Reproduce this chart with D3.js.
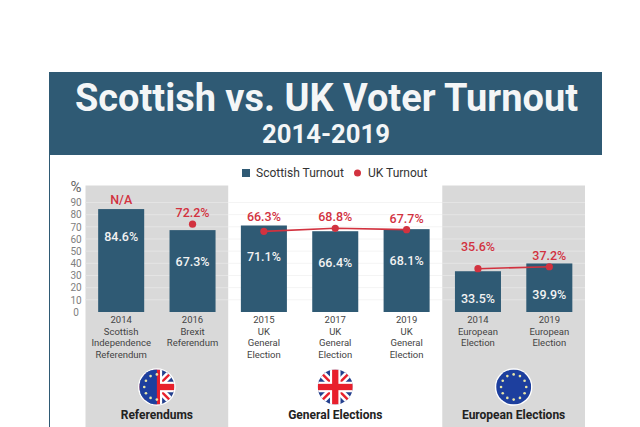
<!DOCTYPE html>
<html>
<head>
<meta charset="utf-8">
<script src="https://cdn.jsdelivr.net/npm/d3@7"></script>
<style>
  body { margin: 0; background: #fff; }
  svg { display: block; }
  text { font-family: "Roboto", "Noto Sans", sans-serif; }
</style>
</head>
<body>
<svg id="chart" width="640" height="427"></svg>
<script>
const years = ["2014", "2016", "2015", "2017", "2019", "2014", "2019"];
const names = [
  ["Scottish", "Independence", "Referendum"],
  ["Brexit", "Referendum"],
  ["UK", "General", "Election"],
  ["UK", "General", "Election"],
  ["UK", "General", "Election"],
  ["European", "Election"],
  ["European", "Election"]
];
const scottish = [84.6, 67.3, 71.1, 66.4, 68.1, 33.5, 39.9];
const uk = [null, 72.2, 66.3, 68.8, 67.7, 35.6, 37.2];
const yTicks = [0, 10, 20, 30, 40, 50, 60, 70, 80, 90];
const groups = ["Referendums", "General Elections", "European Elections"];
const groupBars = [[0, 1], [2, 3, 4], [5, 6]];

const navy = "#2f5a74", red = "#d2323f", grey = "#d9d9d9";
const svg = d3.select("#chart");

const x = d3.scaleBand().domain(d3.range(7)).range([85.5, 585]).paddingInner(0.355).paddingOuter(0.1775);
const y = d3.scaleLinear().domain([0, 90]).range([312, 202.5]);

// header
svg.append("rect").attr("x", 49).attr("y", 72).attr("width", 553).attr("height", 83).attr("fill", navy);
svg.append("line").attr("x1", 49.5).attr("x2", 49.5).attr("y1", 155).attr("y2", 427).attr("stroke", navy);
svg.append("text").attr("x", 326.5).attr("y", 111).attr("text-anchor", "middle")
  .attr("font-size", 38).attr("font-weight", 700).attr("fill", "#f4f6f7")
  .attr("textLength", 503).attr("lengthAdjust", "spacingAndGlyphs")
  .text("Scottish vs. UK Voter Turnout");
svg.append("text").attr("x", 326).attr("y", 143).attr("text-anchor", "middle")
  .attr("font-size", 25).attr("font-weight", 700).attr("fill", "#f4f6f7")
  .attr("textLength", 128).attr("lengthAdjust", "spacingAndGlyphs")
  .text("2014-2019");

// legend
svg.append("rect").attr("x", 242).attr("y", 169).attr("width", 8).attr("height", 8).attr("fill", navy);
svg.append("text").attr("x", 256).attr("y", 177).attr("font-size", 12).attr("fill", "#333").text("Scottish Turnout");
svg.append("circle").attr("cx", 357.5).attr("cy", 173).attr("r", 3.5).attr("fill", red);
svg.append("text").attr("x", 368).attr("y", 177).attr("font-size", 12).attr("fill", "#333").text("UK Turnout");

// grey panels behind referendums and european groups
const step = x.step();
const panelX0 = i => x(i) - (step - x.bandwidth()) / 2;
[[0, 1], [5, 6]].forEach(p => {
  svg.append("rect").attr("x", panelX0(p[0])).attr("y", 185.5)
    .attr("width", step * 2).attr("height", 242).attr("fill", grey);
});

// gridlines
yTicks.forEach(t => {
  if (t === 0) return;
  groupBars.forEach((g, gi) => {
    svg.append("line")
      .attr("x1", panelX0(g[0])).attr("x2", panelX0(g[0]) + step * g.length)
      .attr("y1", y(t)).attr("y2", y(t))
      .attr("stroke", gi === 1 ? "#f4f4f4" : "#e4e4e4");
  });
});

// y axis
const axis = svg.append("g").attr("transform", "translate(83,0)")
  .call(d3.axisLeft(y).tickValues(yTicks).tickSize(0).tickPadding(0));
axis.select(".domain").remove();
axis.selectAll("text").attr("font-size", 10).attr("fill", "#808080")
  .style("font-family", "Roboto, sans-serif").attr("text-anchor", "middle").attr("dx", -7);
svg.append("text").attr("x", 76).attr("y", 192).attr("text-anchor", "middle")
  .attr("font-size", 15).attr("fill", "#666").text("%");

// bars
svg.selectAll(".bar").data(scottish).join("rect").attr("class", "bar")
  .attr("x", (d, i) => x(i)).attr("width", x.bandwidth())
  .attr("y", d => y(d)).attr("height", d => y(0) - y(d)).attr("fill", navy);

// scottish labels, the tall and the short bar sit a bit higher
svg.selectAll(".val").data(scottish).join("text").attr("class", "val")
  .attr("x", (d, i) => x(i) + x.bandwidth() / 2)
  .attr("y", (d, i) => y(d) + (i === 0 || i === 5 ? 32 : 36))
  .attr("text-anchor", "middle").attr("font-size", 12.5).attr("font-weight", 500)
  .attr("fill", "#f2f2f2").text(d => d.toFixed(1) + "%");

// uk line within each group
const cx = i => x(i) + x.bandwidth() / 2;
const line = d3.line().x(i => cx(i)).y(i => y(uk[i]));
groupBars.forEach(g => {
  const pts = g.filter(i => uk[i] !== null);
  svg.append("path").attr("d", line(pts)).attr("fill", "none").attr("stroke", red).attr("stroke-width", 1.6);
});
svg.selectAll(".dot").data(d3.range(7).filter(i => uk[i] !== null)).join("circle").attr("class", "dot")
  .attr("cx", cx).attr("cy", i => y(uk[i])).attr("r", 3.6).attr("fill", red);

// uk labels
svg.selectAll(".ukval").data(d3.range(7)).join("text").attr("class", "ukval")
  .attr("x", cx)
  .attr("y", i => {
    if (uk[i] === null) return y(scottish[i]) - 5;
    return y(uk[i]) - (i === 5 ? 18 : i === 2 ? 10 : 7);
  })
  .attr("text-anchor", "middle").attr("font-size", 12.5).attr("font-weight", 500)
  .attr("fill", red).text(i => uk[i] === null ? "N/A" : uk[i].toFixed(1) + "%");

// category labels
years.forEach((yr, i) => {
  const t = svg.append("text").attr("text-anchor", "middle").attr("font-size", 9.5).attr("fill", "#444");
  [yr].concat(names[i]).forEach((s, k) => {
    t.append("tspan").attr("x", cx(i)).attr("y", 323 + k * 11.7).text(s);
  });
});

// flags
const defs = svg.append("defs");
function ukFlag(g, r) {
  g.append("rect").attr("x", -r).attr("y", -r).attr("width", 2 * r).attr("height", 2 * r).attr("fill", "#24408e");
  [[-r, -r, r, r], [-r, r, r, -r]].forEach(c => {
    g.append("line").attr("x1", c[0]).attr("y1", c[1]).attr("x2", c[2]).attr("y2", c[3]).attr("stroke", "#fff").attr("stroke-width", r * 0.42);
    g.append("line").attr("x1", c[0]).attr("y1", c[1]).attr("x2", c[2]).attr("y2", c[3]).attr("stroke", "#e8202c").attr("stroke-width", r * 0.14);
  });
  g.append("rect").attr("x", -r).attr("y", -r * 0.3).attr("width", 2 * r).attr("height", r * 0.6).attr("fill", "#fff");
  g.append("rect").attr("x", -r * 0.3).attr("y", -r).attr("width", r * 0.6).attr("height", 2 * r).attr("fill", "#fff");
  g.append("rect").attr("x", -r).attr("y", -r * 0.18).attr("width", 2 * r).attr("height", r * 0.36).attr("fill", "#e8202c");
  g.append("rect").attr("x", -r * 0.18).attr("y", -r).attr("width", r * 0.36).attr("height", 2 * r).attr("fill", "#e8202c");
}
function euFlag(g, r) {
  g.append("rect").attr("x", -r).attr("y", -r).attr("width", 2 * r).attr("height", 2 * r).attr("fill", "#1d3f9e");
  d3.range(12).forEach(k => {
    const a = k * Math.PI / 6;
    g.append("circle").attr("cx", Math.cos(a) * r * 0.72).attr("cy", Math.sin(a) * r * 0.72).attr("r", r * 0.075).attr("fill", "#e9e6a8");
  });
}
function badge(px, py, kind, id) {
  const r = 17.5;
  const g = svg.append("g").attr("transform", `translate(${px},${py})`);
  g.append("circle").attr("r", r + 1.3).attr("fill", "#fff");
  defs.append("clipPath").attr("id", id).append("circle").attr("r", r);
  const inner = g.append("g").attr("clip-path", `url(#${id})`);
  if (kind === "uk") ukFlag(inner, r);
  if (kind === "eu") euFlag(inner, r);
  if (kind === "both") {
    ukFlag(inner, r);
    inner.append("rect").attr("x", -r).attr("y", -r).attr("width", r).attr("height", 2 * r).attr("fill", "#1d3f9e");
    d3.range(7).forEach(k => {
      const a = Math.PI / 2 + k * Math.PI / 6;
      inner.append("circle").attr("cx", Math.cos(a) * r * 0.72).attr("cy", Math.sin(a) * r * 0.72).attr("r", r * 0.075).attr("fill", "#e9e6a8");
    });
  }
}
const groupMid = g => (cx(g[0]) + cx(g[g.length - 1])) / 2;
["both", "uk", "eu"].forEach((k, i) => badge(groupMid(groupBars[i]), 387, k, "flag" + i));

// group titles
groups.forEach((name, i) => {
  svg.append("text").attr("x", groupMid(groupBars[i])).attr("y", 419).attr("text-anchor", "middle")
    .attr("font-size", 12).attr("font-weight", 700).attr("fill", "#222").text(name);
});
</script>
</body>
</html>
